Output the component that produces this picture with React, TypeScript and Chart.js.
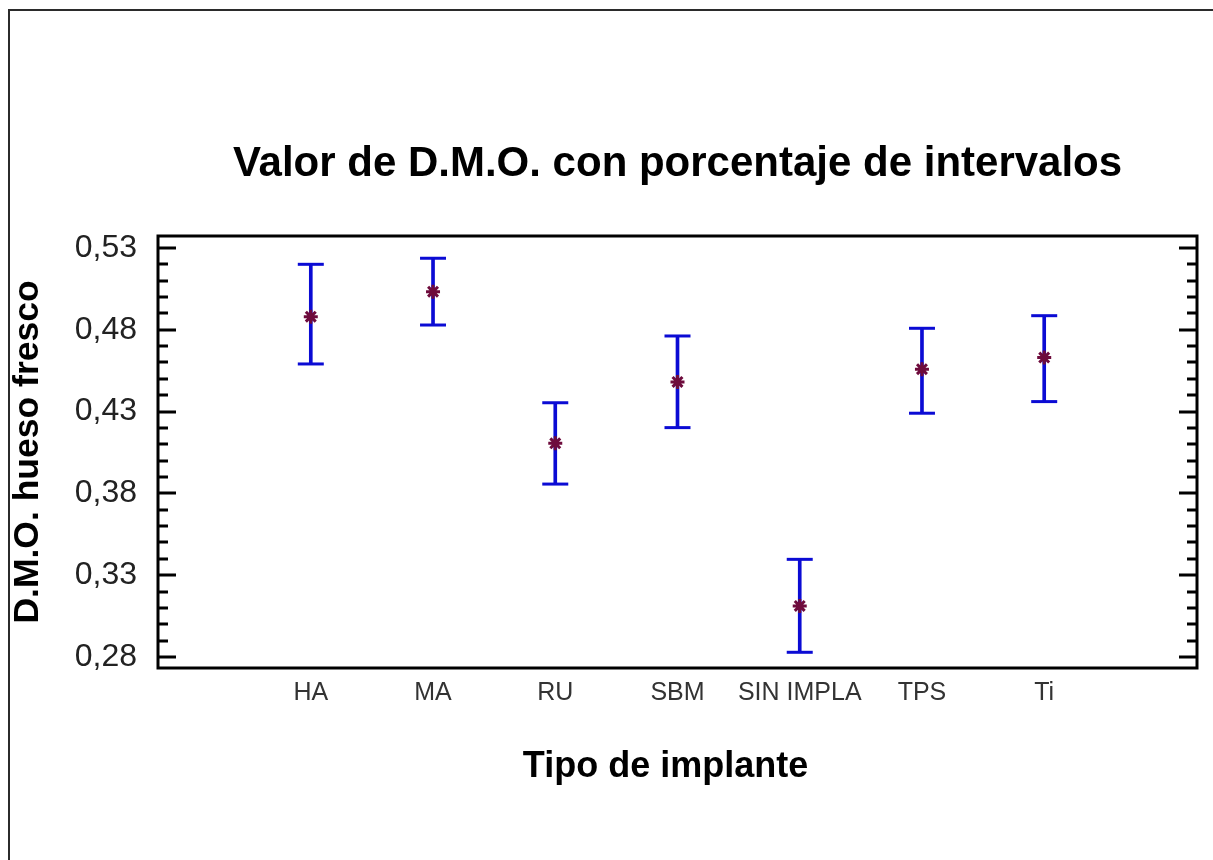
import React, { useEffect, useRef } from 'react';
import { Chart, registerables } from 'chart.js';

Chart.register(...registerables);

const categories = ['HA', 'MA', 'RU', 'SBM', 'SIN IMPLA', 'TPS', 'Ti'];
const means = [0.488, 0.5033, 0.4106, 0.4481, 0.3112, 0.4559, 0.463];
const lower = [0.4591, 0.4829, 0.3857, 0.4202, 0.2829, 0.429, 0.4361];
const upper = [0.52, 0.5237, 0.4354, 0.4762, 0.3397, 0.4809, 0.4886];
const yTickValues = [0.28, 0.33, 0.38, 0.43, 0.48, 0.53];
const yMinorStep = 0.01;
const yMin = 0.2733;
const yMax = 0.5373;
const xMin = -1.25;
const xMax = 7.25;

const titleText = 'Valor de D.M.O. con porcentaje de intervalos';
const xTitle = 'Tipo de implante';
const yTitle = 'D.M.O. hueso fresco';

const FONT = '"Liberation Sans", Arial, sans-serif';
const BLUE = '#0b0bd4';
const MAROON = '#6e0b3c';

const framePlugin = {
  id: 'frame',
  beforeDraw(chart: any) {
    const { ctx, width, height } = chart;
    ctx.save();
    ctx.fillStyle = '#ffffff';
    ctx.fillRect(0, 0, width, height);
    ctx.strokeStyle = '#2b2b2b';
    ctx.lineWidth = 2;
    ctx.beginPath();
    ctx.moveTo(9, height);
    ctx.lineTo(9, 10);
    ctx.lineTo(width, 10);
    ctx.stroke();
    ctx.restore();
  },
  afterDatasetsDraw(chart: any) {
    const { ctx, chartArea: a, scales } = chart;
    const y = scales.y;
    ctx.save();
    ctx.strokeStyle = '#000000';
    ctx.lineWidth = 3;
    ctx.strokeRect(a.left, a.top, a.right - a.left, a.bottom - a.top);
    const first = yTickValues[0];
    const last = yTickValues[yTickValues.length - 1];
    const n = Math.round((last - first) / yMinorStep);
    for (let k = 0; k <= n; k++) {
      const v = first + k * yMinorStep;
      const py = Math.round(y.getPixelForValue(v));
      const len = k % 5 === 0 ? 18 : 10;
      ctx.beginPath();
      ctx.moveTo(a.left, py);
      ctx.lineTo(a.left + len, py);
      ctx.moveTo(a.right, py);
      ctx.lineTo(a.right - len, py);
      ctx.stroke();
    }
    ctx.restore();
  },
  afterDraw(chart: any) {
    const { ctx, chartArea: a } = chart;
    const cx = (a.left + a.right) / 2;
    ctx.save();
    ctx.fillStyle = '#000000';
    ctx.textAlign = 'center';
    ctx.textBaseline = 'middle';
    ctx.font = `bold 42px ${FONT}`;
    ctx.fillText(titleText, cx, 164);
    ctx.font = `bold 36px ${FONT}`;
    ctx.fillText(xTitle, cx - 12, 767);
    ctx.restore();
  },
};

export default function App() {
  const canvasRef = useRef<HTMLCanvasElement | null>(null);

  useEffect(() => {
    const canvas = canvasRef.current;
    if (!canvas) return;
    const idx = categories.map((_, i) => i);
    const chart = new Chart(canvas, {
      type: 'scatter',
      data: {
        datasets: [
          {
            type: 'scatter',
            label: 'media',
            data: idx.map((i) => ({ x: i, y: means[i] })),
            pointStyle: 'star',
            pointRadius: 7,
            pointHoverRadius: 7,
            borderWidth: 3,
            borderColor: MAROON,
            backgroundColor: MAROON,
            showLine: false,
          } as any,
          {
            type: 'scatter',
            label: 'limites',
            data: [
              ...idx.map((i) => ({ x: i, y: upper[i] })),
              ...idx.map((i) => ({ x: i, y: lower[i] })),
            ],
            pointStyle: 'line',
            pointRadius: 13,
            pointHoverRadius: 13,
            borderWidth: 3,
            borderColor: BLUE,
            backgroundColor: BLUE,
            showLine: false,
          } as any,
          {
            type: 'bar',
            label: 'intervalo',
            data: idx.map((i) => ({ x: i, y: [lower[i], upper[i]] })),
            backgroundColor: BLUE,
            borderWidth: 0,
            barThickness: 3,
          } as any,
        ],
      },
      options: {
        responsive: false,
        animation: false,
        events: [],
        layout: { padding: { left: 0, top: 236, right: 14, bottom: 0 } },
        plugins: {
          legend: { display: false },
          tooltip: { enabled: false },
          title: { display: false },
        },
        scales: {
          x: {
            type: 'linear',
            min: xMin,
            max: xMax,
            offset: false,
            grid: { display: false, drawTicks: false, offset: false },
            border: { display: false },
            afterBuildTicks: (scale: any) => {
              scale.ticks = categories.map((_, i) => ({ value: i }));
            },
            afterFit: (scale: any) => {
              scale.height = 192;
            },
            ticks: {
              autoSkip: false,
              maxRotation: 0,
              padding: 10,
              color: '#333333',
              font: { family: FONT, size: 25 },
              callback: (v: any) => categories[Math.round(Number(v))] ?? '',
            },
            title: { display: false },
          },
          y: {
            type: 'linear',
            min: yMin,
            max: yMax,
            beginAtZero: false,
            grid: { display: false, drawTicks: false },
            border: { display: false },
            afterBuildTicks: (scale: any) => {
              scale.ticks = yTickValues.map((v) => ({ value: v }));
            },
            afterFit: (scale: any) => {
              scale.width = 158;
            },
            ticks: {
              padding: 21,
              color: '#222222',
              font: { family: FONT, size: 32 },
              callback: (v: any) => Number(v).toFixed(2).replace('.', ','),
            },
            title: {
              display: true,
              text: yTitle,
              color: '#000000',
              font: { family: FONT, size: 35.5, weight: 'bold' },
              padding: { top: 7, bottom: 0 },
            },
          },
        },
      },
      plugins: [framePlugin],
    } as any);
    return () => chart.destroy();
  }, []);

  return (
    <div style={{ position: 'absolute', left: 0, top: 0, width: 1213, height: 860 }}>
      <canvas ref={canvasRef} width={1213} height={860} style={{ display: 'block' }} />
    </div>
  );
}
